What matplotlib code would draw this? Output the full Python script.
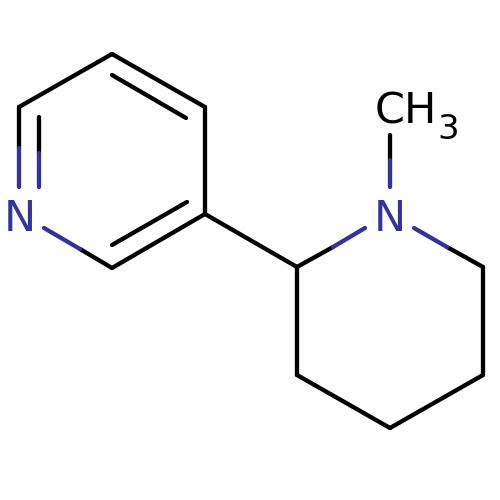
import matplotlib
matplotlib.use("Agg")
import matplotlib.pyplot as plt

BLACK = "#000000"
BLUE = "#33339e"

# (x0, y0, x1, y1) in image pixels
black_bonds = [
    (19, 148, 19, 107), (19, 107, 112, 54), (112, 54, 205, 107),
    (205, 107, 205, 214), (205, 214, 112, 268), (112, 268, 80, 249),
    (205, 214, 297, 267), (297, 267, 333, 247), (297, 267, 297, 375),
    (297, 375, 390, 428), (390, 428, 483, 375), (483, 375, 483, 267),
    (483, 267, 447, 247), (389.5, 135, 389.5, 160),
    (38.5, 117, 38.5, 153), (112, 75, 186, 118), (112, 245, 187, 202),
]
blue_bonds = [
    (19, 148, 19, 187), (38.5, 153, 38.5, 187), (80, 249, 44, 228),
    (333, 247, 365, 228), (447, 247, 414, 228), (389.5, 160, 389.5, 187),
]
atom_labels = [
    ("N", 20, 231, 31, BLUE),
    ("N", 390, 231, 31, BLUE),
    ("CH", 405.5, 124, 31, BLACK),
    ("3", 448.5, 139, 24.5, BLACK),
]

fig = plt.figure(figsize=(5, 5), dpi=100)
ax = fig.add_axes([0, 0, 1, 1])
ax.set_xlim(0, 500)
ax.set_ylim(500, 0)
ax.axis("off")

for bonds, colour in ((black_bonds, BLACK), (blue_bonds, BLUE)):
    for x0, y0, x1, y1 in bonds:
        ax.plot([x0, x1], [y0, y1], color=colour, lw=3.1,
                solid_capstyle="round", solid_joinstyle="round")

for text, x, y, size, colour in atom_labels:
    ax.text(x, y, text, color=colour, fontsize=size, ha="center", va="baseline",
            family="DejaVu Sans")

fig.savefig("out.png", dpi=100)
